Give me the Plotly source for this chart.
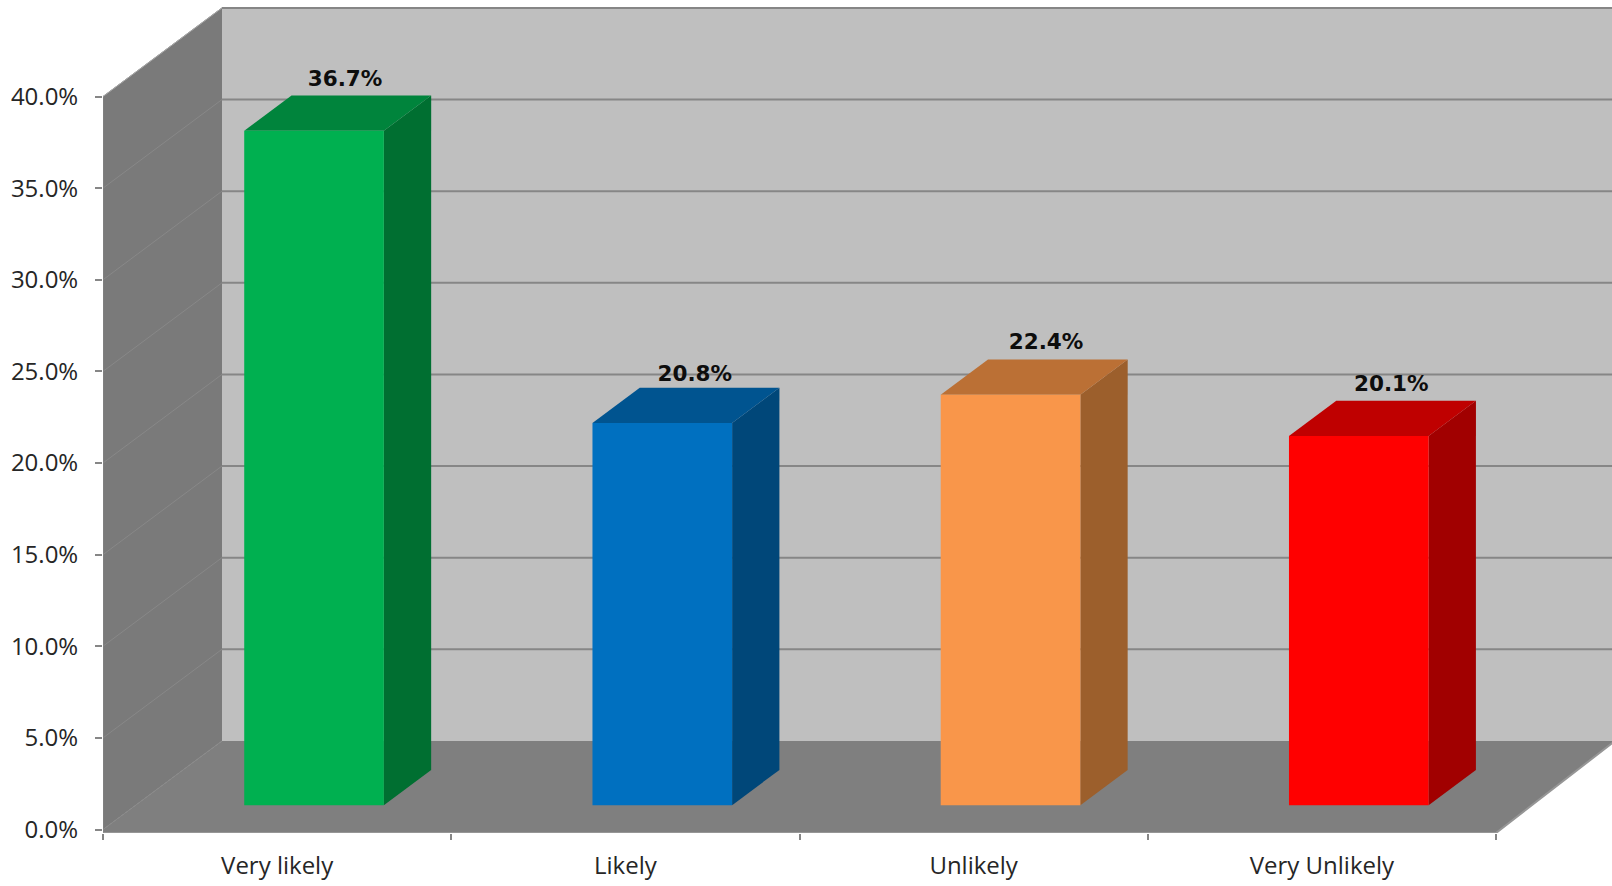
import plotly.graph_objects as go

# ---- data ----
categories = ["Very likely", "Likely", "Unlikely", "Very Unlikely"]
values = [36.8, 20.85, 22.4, 20.15]
value_labels = ["36.7%", "20.8%", "22.4%", "20.1%"]
y_ticks = [0, 5, 10, 15, 20, 25, 30, 35, 40]
y_tick_labels = ["0.0%", "5.0%", "10.0%", "15.0%", "20.0%", "25.0%", "30.0%", "35.0%", "40.0%"]

# ---- colours: front, top, side ----
front_colors = ["#00b050", "#0070c0", "#f9964a", "#ff0000"]
top_colors = ["#00843c", "#005490", "#bb7035", "#bf0000"]
side_colors = ["#006f31", "#004779", "#9c5f2c", "#a10000"]

# ---- oblique projection (data units) ----
W, H = 1612, 886
PX_X = 348.25          # px per category
PX_Y = 18.32           # px per percent
LEFT = 103
Y0 = 829.3             # pixel of 0%
FLOOR_Y = 832.8
DX = 119 / PX_X        # x shift for full depth
DY = 88.6 / PX_Y       # y shift for full depth
XMAX = (W - LEFT) / PX_X
YMIN = -(FLOOR_Y - Y0) / PX_Y
YMAX = Y0 / PX_Y
BAR_D0 = 1.33 / DY     # depth of bar fronts
BAR_D1 = BAR_D0 + 47.3 / 119
BAR_OFF = 0.4055 - BAR_D0 * DX
BAR_W = 0.401


def pr(x, d, y):
    return x + d * DX, y + d * DY


def poly(points, color):
    xs, ys = zip(*[pr(*p) for p in points])
    return go.Scatter(x=list(xs) + [xs[0]], y=list(ys) + [ys[0]], mode="none", fill="toself",
                      fillcolor=color, hoverinfo="skip", showlegend=False)


def line(points, color, width, clip=True):
    xs, ys = zip(*[pr(*p) for p in points])
    return go.Scatter(x=list(xs), y=list(ys), mode="lines", line=dict(color=color, width=width),
                      hoverinfo="skip", showlegend=False, cliponaxis=clip)


fig = go.Figure()
TOP = 40
N = len(categories)

# walls and floor
fig.add_trace(poly([(0, 1, 0), (XMAX, 1, 0), (XMAX, 1, TOP), (0, 1, TOP)], "#bfbfbf"))
fig.add_trace(poly([(0, 0, 0), (0, 1, 0), (0, 1, TOP), (0, 0, TOP)], "#7a7a7a"))
fig.add_trace(poly([(0, 0, 0), (0, 0, YMIN), (N, 0, YMIN), (N, 1, 0), (0, 1, 0)], "#7f7f7f"))

# gridlines
for v in y_ticks[1:]:
    fig.add_trace(line([(0, 1, v), (XMAX, 1, v)], "#868686", 2))
    fig.add_trace(line([(0, 0, v), (0, 1, v)], "#888888", 1))
fig.add_trace(line([(0, 0, TOP), (0, 1, TOP)], "#a6a6a6", 1))
fig.add_trace(line([(0, 0, 0), (0, 1, 0)], "#888888", 1))

# floor edges and axis line
fig.add_trace(line([(0, 0, YMIN), (N, 0, YMIN), (N, 1, 0)], "#969696", 2, clip=False))
fig.add_trace(line([(0, 0, YMIN), (0, 0, TOP)], "#868686", 1, clip=False))

# bars
base = 0.0
for i, v in enumerate(values):
    x0 = i + BAR_OFF
    x1 = x0 + BAR_W
    fig.add_trace(poly([(x1, BAR_D0, base), (x1, BAR_D1, base), (x1, BAR_D1, v), (x1, BAR_D0, v)], side_colors[i]))
    fig.add_trace(poly([(x0, BAR_D0, v), (x1, BAR_D0, v), (x1, BAR_D1, v), (x0, BAR_D1, v)], top_colors[i]))
    fig.add_trace(poly([(x0, BAR_D0, base), (x1, BAR_D0, base), (x1, BAR_D0, v), (x0, BAR_D0, v)], front_colors[i]))

# data labels
label_nudge_x = [31, 32.5, 35.5, 32.5]
label_nudge_y = [50.5, 47.5, 51, 50]
label_x = []
label_y = []
for i, v in enumerate(values):
    fx, fy = pr(i + BAR_OFF + BAR_W / 2, BAR_D0, v)
    label_x.append(fx + label_nudge_x[i] / PX_X)
    label_y.append(fy + label_nudge_y[i] / PX_Y)
fig.add_trace(go.Scatter(x=label_x, y=label_y, text=value_labels, mode="text", textposition="middle center",
                         textfont=dict(family="DejaVu Sans", size=21.5, color="#0d0d0d", weight="bold"),
                         hoverinfo="skip", showlegend=False, cliponaxis=False))

fig.update_layout(
    width=W, height=H, autosize=False,
    margin=dict(l=LEFT, r=0, t=0, b=H - FLOOR_Y, pad=0),
    paper_bgcolor="#ffffff", plot_bgcolor="#ffffff", showlegend=False,
    xaxis=dict(range=[0, XMAX], tickmode="array", tickvals=[i + 0.5 for i in range(N)], ticktext=categories,
               ticks="", showgrid=False, zeroline=False, showline=False, fixedrange=True,
               tickfont=dict(family="Open Sans", size=24, color="#262626"), ticklabelstandoff=16,
               minor=dict(tickmode="array", tickvals=list(range(N + 1)), ticks="outside", ticklen=6,
                          tickwidth=2, tickcolor="#868686", showgrid=False)),
    yaxis=dict(range=[YMIN, YMAX], tickmode="array", tickvals=y_ticks, ticktext=y_tick_labels,
               ticks="outside", ticklen=7, tickwidth=2, tickcolor="#868686", showgrid=False,
               zeroline=False, showline=False, fixedrange=True, ticklabelstandoff=12,
               tickfont=dict(family="Open Sans", size=24, color="#262626")),
)
fig.write_html("out.html", post_script="document.body.style.margin='0';document.body.style.overflow='hidden';",
               config={"displayModeBar": False})
